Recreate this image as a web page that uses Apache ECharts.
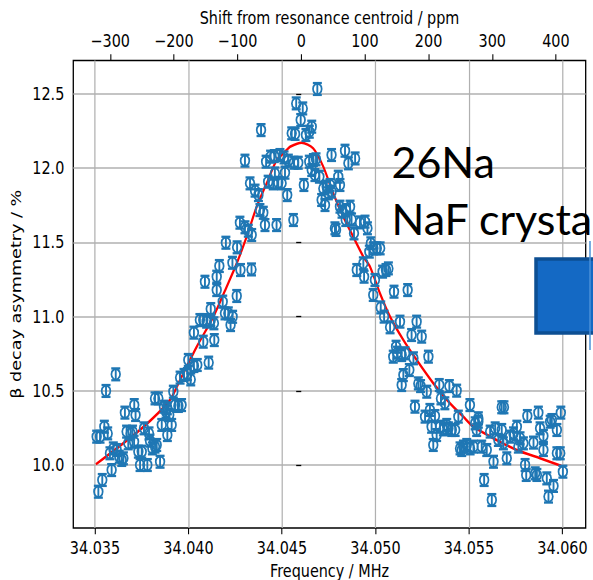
<!DOCTYPE html>
<html>
<head>
<meta charset="utf-8">
<script src="https://cdn.jsdelivr.net/npm/echarts@6/dist/echarts.min.js"></script>
<style>
html,body{margin:0;padding:0;background:#fff;overflow:hidden;}
#frame{width:593px;height:580px;overflow:hidden;position:relative;background:#fff;}
#chart{width:725px;height:580px;position:absolute;left:0;top:0;transform:scaleX(0.818);transform-origin:0 0;}
</style>
</head>
<body>
<div id="frame"><div id="chart"></div></div>
<script>
// ---------------- data ----------------
const freqMHz = [
34.03518,34.03539,34.03589,34.03509,34.03527,34.03550,34.03568,34.03559,34.03611,34.03580,
34.03598,34.03616,34.03630,34.03643,34.03652,34.03660,34.03710,34.03717,34.03669,34.03691,
34.03701,34.03678,34.03709,34.03732,34.03741,34.03750,34.03762,34.03780,34.03789,34.03794,
34.03807,34.03821,34.03830,34.03848,34.03821,34.03839,34.03869,34.03880,34.03887,34.03897,
34.03857,34.03887,34.03910,34.03919,34.03928,34.03946,34.03963,34.03955,34.03976,34.03994,
34.03999,34.04012,34.04029,34.04047,34.04029,34.04061,34.04079,34.04097,34.04119,34.04136,
34.04079,34.04108,34.04138,34.04119,34.04183,34.04195,34.04213,34.04225,34.04236,34.04258,
34.04151,
34.04388,34.04302,34.04415,34.04439,34.04459,34.04489,34.04511,34.04534,34.04564,34.04462,
34.04516,34.04426,34.04453,34.04480,34.04498,34.04528,34.04329,34.04356,34.04374,34.04382,
34.04400,34.04409,34.04471,34.04561,34.04275,34.04302,34.04320,34.04338,34.04200,34.04260,
34.04235,34.04278,34.04337,34.04165,34.04151,34.04088,
34.04689,34.04576,34.04611,34.04600,34.04552,34.04570,34.04628,34.04646,34.04659,34.04587,
34.04617,34.04646,34.04668,34.04682,34.04659,34.04676,34.04700,34.04765,34.04837,34.04855,
34.04891,34.04801,34.04810,34.04721,34.04739,34.04757,34.04748,34.04765,34.04712,34.04730,
34.04783,34.04789,34.04810,34.04821,34.04843,34.04864,34.04841,34.04872,34.04917,34.04944,
34.04957,34.04885,34.04975,34.04989,34.05007,34.05025,34.04967,
34.04935,34.04939,34.05038,34.05056,34.05069,34.04997,34.04988,34.05099,34.05172,34.05028,
34.05046,34.05078,34.05131,34.05220,34.05193,34.05247,34.05110,34.05095,34.05116,34.05140,
34.05158,34.05203,34.05283,34.05181,34.05149,34.05140,34.05229,34.05241,34.05274,34.05341,
34.05395,34.05434,34.05350,34.05371,34.05211,34.05291,34.05265,34.05318,34.05505,34.05443,
34.05550,34.05300,34.05327,34.05309,34.04900,
34.05675,34.05687,34.05345,34.05363,34.05390,34.05408,34.05426,34.05381,34.05452,34.05470,
34.05488,34.05506,34.05524,34.05461,34.05533,34.05550,34.05541,34.05568,34.05595,34.05631,
34.05581,34.05622,34.05613,34.05640,34.05675,34.05657,34.05684,34.05702,34.05720,34.05738,
34.05756,34.05773,34.05791,34.05764,34.05812,34.05871,34.05880,34.05898,34.05934,34.05943,
34.05970,34.05991,34.05800,34.05806,34.05845,34.05854,34.05863,34.05898,34.05916,34.05952,
34.05925,34.05970,34.05988,34.06002
];
const asymmetry = [
9.820,9.899,9.966,10.191,10.191,10.258,10.213,10.499,10.611,10.079,
10.112,10.101,10.056,10.034,10.045,10.353,10.404,10.337,10.225,10.213,
10.225,10.146,10.157,10.090,10.000,10.090,10.247,10.000,10.213,10.164,
10.112,10.124,10.135,10.022,10.449,10.449,10.393,10.359,10.382,10.337,
10.270,10.202,10.270,10.494,10.404,10.398,10.404,10.589,10.607,10.613,
10.708,10.577,10.667,10.674,10.892,10.977,10.977,10.966,10.977,10.955,
10.831,10.690,10.842,11.051,11.101,11.022,11.022,10.943,10.999,11.139,
11.179,
12.257,12.051,12.044,12.078,12.082,12.089,12.073,12.051,12.037,11.965,
11.970,11.909,11.898,11.902,11.898,11.819,11.898,11.849,11.819,11.718,
11.700,11.617,11.617,11.651,11.633,11.602,11.579,11.550,11.498,11.467,
11.363,11.314,11.318,11.341,11.269,11.235,
12.534,12.437,12.403,12.325,12.235,12.231,12.224,12.246,12.280,12.037,
11.887,12.044,12.055,12.060,11.988,11.954,11.943,12.089,12.118,12.033,
12.066,11.943,11.887,11.864,11.876,11.887,11.831,11.842,11.786,11.752,
11.595,11.584,11.741,11.707,11.718,11.741,11.651,11.655,11.635,11.640,
11.595,11.561,11.494,11.460,11.460,11.460,11.438,
11.359,11.269,11.303,11.314,11.325,11.247,11.146,11.168,11.179,11.062,
11.000,10.928,10.966,10.966,10.876,10.865,10.797,10.730,10.757,10.741,
10.753,10.719,10.730,10.640,10.606,10.539,10.550,10.532,10.494,10.539,
10.532,10.501,10.449,10.416,10.393,10.371,10.326,10.330,10.404,10.326,
10.315,10.258,10.202,10.135,11.314,
10.389,10.389,10.258,10.240,10.247,10.236,10.236,10.270,10.112,10.124,
10.135,10.112,10.124,10.101,10.281,10.292,10.236,10.124,10.101,10.022,
9.899,9.764,10.225,10.247,10.236,10.169,10.146,10.045,10.191,10.213,
10.258,10.180,10.146,10.124,10.330,10.353,10.247,10.196,10.292,10.303,
10.236,10.353,10.000,9.933,10.151,9.944,9.933,10.101,9.910,9.859,
9.787,10.079,10.079,9.955
];
const asymErr = 0.04;           // error bar half-length (%)

const fitFreqMHz = [34.03505,34.03750,34.03901,34.03955,34.04044,34.04133,34.04204,34.04258,34.04311,34.04365,
  34.04418,34.04472,34.04525,34.04543,34.04605,34.04667,34.04721,34.04774,34.04828,34.04881,
  34.04935,34.04971,34.05024,34.05078,34.05149,34.05220,34.05309,34.05398,34.05470,34.05523,
  34.05648,34.05755,34.05880,34.05992];
const fitAsym = [10.005,10.247,10.438,10.573,10.797,10.999,11.201,11.359,11.538,11.741,
  11.898,12.055,12.123,12.145,12.172,12.134,12.010,11.831,11.673,11.538,
  11.404,11.336,11.157,10.999,10.842,10.708,10.551,10.416,10.325,10.258,
  10.168,10.101,10.045,9.995];

const freqTicks = [34.035,34.040,34.045,34.050,34.055,34.060];
const ppmTicks = [-300,-200,-100,0,100,200,300,400];
const asymTicks = [10.0,10.5,11.0,11.5,12.0,12.5];
const centroidMHz = 34.04603;
const freqRange = [34.03384, 34.06124];
const asymRange = [9.5755, 12.726];
const annotation = ['26Na', 'NaF crysta'];

// ---------------- chart ----------------
const SX = 0.818;                       // horizontal squeeze of the original figure
const FONT = 'DejaVu Sans';
const FS = 17.6;
const toPpm = f => (f - centroidMHz) / centroidMHz * 1e6;
const points = freqMHz.map((f, i) => [f, asymmetry[i]]);
const fitLine = fitFreqMHz.map((f, i) => [f, fitAsym[i]]);
const C0 = '#1f77b4';

const chart = echarts.init(document.getElementById('chart'), null, {renderer: 'svg'});
const tickStyle = {show: true, inside: false, length: 6.2, lineStyle: {color: '#000', width: 1.3}};
const labelStyle = {color: '#000', fontFamily: FONT, fontSize: FS};
chart.setOption({
  backgroundColor: '#fff',
  animation: false,
  grid: {left: 89.6, right: 9, top: 60.5, bottom: 52, show: true, borderColor: '#000', borderWidth: 1.6,
         backgroundColor: 'transparent', containLabel: false, outerBoundsMode: 'none'},
  xAxis: [{
    type: 'value', position: 'bottom', min: freqRange[0], max: freqRange[1],
    axisLine: {show: false},
    axisTick: Object.assign({customValues: freqTicks}, tickStyle),
    axisLabel: Object.assign({customValues: freqTicks, margin: 11, formatter: v => v.toFixed(3)}, labelStyle),
    splitLine: {show: true, lineStyle: {color: '#b0b0b0', width: 1.5}},
    name: 'Frequency / MHz', nameLocation: 'middle', nameGap: 31,
    nameTextStyle: Object.assign({lineHeight: 18}, labelStyle)
  }, {
    type: 'value', position: 'top', min: toPpm(freqRange[0]), max: toPpm(freqRange[1]),
    axisLine: {show: false},
    axisTick: Object.assign({customValues: ppmTicks}, tickStyle),
    axisLabel: Object.assign({customValues: ppmTicks, margin: 11, formatter: v => (v < 0 ? '\u2212' + Math.abs(v) : String(v))}, labelStyle),
    splitLine: {show: false},
    name: 'Shift from resonance centroid / ppm', nameLocation: 'middle', nameGap: 33,
    nameTextStyle: labelStyle
  }],
  yAxis: [{
    type: 'value', min: asymRange[0], max: asymRange[1],
    axisLine: {show: false},
    axisTick: Object.assign({customValues: asymTicks}, tickStyle),
    axisLabel: Object.assign({customValues: asymTicks, margin: 11, formatter: v => v.toFixed(1)}, labelStyle),
    splitLine: {show: true, lineStyle: {color: '#b0b0b0', width: 1.5}},
    name: '\u03b2 decay asymmetry / %', nameLocation: 'middle', nameGap: 58,
    nameTextStyle: labelStyle
  }],
  series: [{
    type: 'line', xAxisIndex: 0, data: fitLine, symbol: 'none', smooth: 0.25, z: 2,
    lineStyle: {color: '#ff0000', width: 2.6}
  }, {
    type: 'custom', xAxisIndex: 0, data: points, z: 3,
    renderItem: function (params, api) {
      const x = api.value(0), y = api.value(1);
      const c = api.coord([x, y]);
      const t = api.coord([x, y + asymErr]);
      const b = api.coord([x, y - asymErr]);
      const cap = 5.5;
      const st = {stroke: C0, lineWidth: 2.3, fill: 'none'};
      return {type: 'group', children: [
        {type: 'line', shape: {x1: c[0], y1: t[1], x2: c[0], y2: b[1]}, style: st},
        {type: 'line', shape: {x1: c[0] - cap, y1: t[1], x2: c[0] + cap, y2: t[1]}, style: st},
        {type: 'line', shape: {x1: c[0] - cap, y1: b[1], x2: c[0] + cap, y2: b[1]}, style: st},
        {type: 'circle', shape: {cx: c[0], cy: c[1], r: 5.3}, style: {stroke: C0, lineWidth: 2.1, fill: 'none'}}
      ]};
    }
  }],
  graphic: [
    {type: 'text', x: 391.5 / SX, y: 161, scaleX: 1 / SX, z: 10,
     style: {text: annotation[0], fontFamily: 'Lato', fontSize: 43, fill: '#000', verticalAlign: 'middle', align: 'left'}},
    {type: 'text', x: 391.5 / SX, y: 218, scaleX: 1 / SX, z: 10,
     style: {text: annotation[1], fontFamily: 'Lato', fontSize: 43, fill: '#000', verticalAlign: 'middle', align: 'left'}},
    {type: 'rect', x: 536 / SX, y: 259, scaleX: 1 / SX, z: 10,
     shape: {x: 0, y: 0, width: 70, height: 74},
     style: {fill: '#1469c4', stroke: '#0d4f93', lineWidth: 3.5}},
    {type: 'line', x: 590 / SX, y: 0, scaleX: 1 / SX, z: 10,
     shape: {x1: 0, y1: 241, x2: 0, y2: 350},
     style: {stroke: '#4a90d9', lineWidth: 1.5}}
  ]
});
</script>
</body>
</html>
